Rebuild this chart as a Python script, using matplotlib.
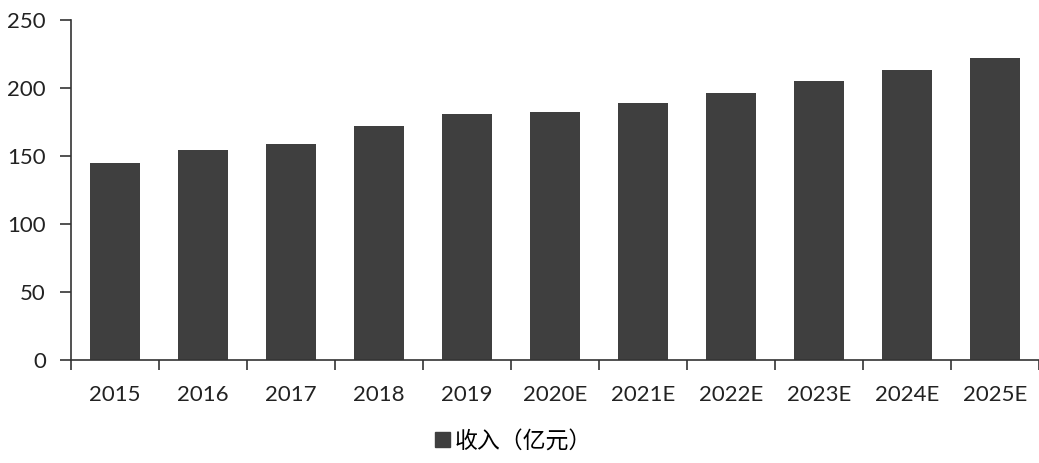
import matplotlib.pyplot as plt
from matplotlib.patches import Patch

plt.rcParams['font.family'] = ['Lato', 'Noto Sans CJK SC', 'DejaVu Sans']

# Data
years = ['2015', '2016', '2017', '2018', '2019', '2020E',
         '2021E', '2022E', '2023E', '2024E', '2025E']
revenue = [145, 154, 159, 172, 181, 182, 189, 196, 205, 213, 222]
series_name = '收入（亿元）'

bar_color = '#3f3f3f'

fig = plt.figure(figsize=(10.39, 4.63), dpi=100)
ax = fig.add_axes([0.0683, 0.2225, 0.9317, 0.7345])

x = range(len(years))
ax.bar(x, revenue, width=0.57, color=bar_color)

ax.set_xlim(-0.5, len(years) - 0.5)
ax.set_ylim(0, 250)
ax.set_yticks([0, 50, 100, 150, 200, 250])

# category labels centred, tick marks between categories
ax.set_xticks([i - 0.5 for i in range(len(years) + 1)])
ax.set_xticklabels([])
ax.set_xticks(list(x), minor=True)
ax.set_xticklabels(years, minor=True)
ax.tick_params(axis='x', which='major', length=7, width=1.2, color='#333333', direction='out')
ax.tick_params(axis='x', which='minor', length=0, pad=18, labelsize=16, labelcolor='#222222')
ax.tick_params(axis='y', length=8, width=1.2, color='#333333', pad=10, labelsize=16,
               labelcolor='#222222')

for side in ['top', 'right']:
    ax.spines[side].set_visible(False)
for side in ['left', 'bottom']:
    ax.spines[side].set_color('#333333')
    ax.spines[side].set_linewidth(1.2)

handles = [Patch(color=bar_color, label=series_name)]
fig.legend(handles=handles, loc='center', bbox_to_anchor=(0.494, 0.047), frameon=False,
           handlelength=0.65, handleheight=0.65, handletextpad=0.2,
           prop={'family': ['Noto Sans CJK SC', 'DejaVu Sans'], 'size': 16.5})

fig.savefig('out.png', dpi=100)
